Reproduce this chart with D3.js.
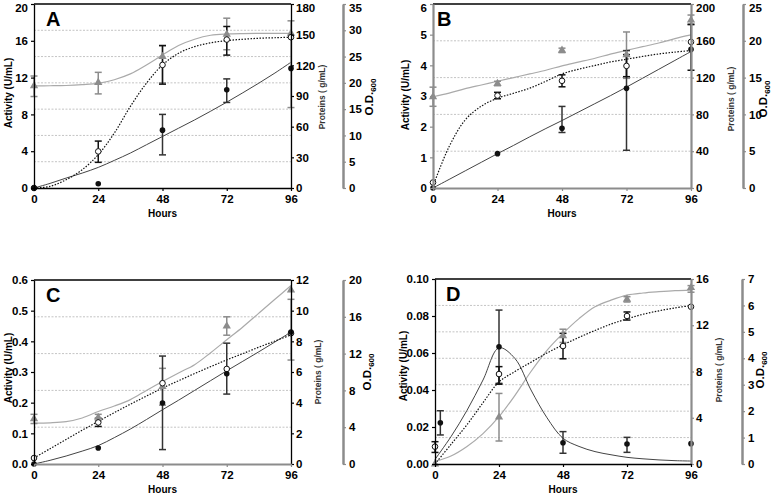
<!DOCTYPE html>
<html><head><meta charset="utf-8">
<script src="https://cdn.jsdelivr.net/npm/d3@7"></script>
<style>
body{margin:0;background:#fff}
svg{display:block;font-family:"Liberation Sans",Arial,sans-serif}
</style></head><body>
<svg id="c" width="775" height="494"></svg>
<script>
// ---------- shared ----------
const hours = [0, 24, 48, 72, 96];
const hourTicks = [0, 24, 48, 72, 96];
const fitHours = [0, 6, 12, 18, 24, 30, 36, 42, 48, 54, 60, 66, 72, 78, 84, 90, 96];

// ---------- Panel A ----------
const aActivity = [0, 0.47, 6.29, 10.67, 13.0];
const aActivityErr = [null, null, [3.6, 8.0], [9.3, 11.86], null];
const aProteins = [0, 35.8, 120.4, 145.2, 147.5];
const aProteinsErr = [null, [25.1, 45.9], [101.6, 139.3], [130, 158], null];
const aOD = [19.43, 20.06, 25.0, 29.24, 29.4];
const aODErr = [[17.4, 21.3], [17.9, 22.0], [20.0, 27.1], [26.3, 32.3], [15.3, 31.8]];
const aActivityFit = [0, 0.5, 1.08, 1.62, 2.24, 3.0, 3.8, 4.7, 5.6, 6.5, 7.4, 8.35, 9.33, 10.35, 11.4, 12.5, 13.67];
const aProteinsFit = [0, 1.6, 8.1, 17.9, 32.6, 53.7, 79.8, 102.5, 120.4, 131.8, 138.3, 142, 144.2, 145.5, 146.5, 147, 147.5];
const aODFit = [19.43, 19.45, 19.5, 19.65, 19.9, 20.6, 21.7, 23.4, 25.3, 27.1, 28.3, 29.05, 29.3, 29.38, 29.4, 29.4, 29.4];
const aActTicks = [0, 4, 8, 12, 16, 20];
const aProtTicks = [0, 30, 60, 90, 120, 150, 180];
const aODTicks = [0, 5, 10, 15, 20, 25, 30, 35];

// ---------- Panel B ----------
const bActivity = [0, 1.12, 1.95, 3.25, 4.52];
const bActivityErr = [null, null, [1.81, 2.66], [1.23, 4.48], null];
const bProteins = [6, 100.5, 116.5, 132.7, 158.8];
const bProteinsErr = [null, [97, 104], [110, 123], [121, 145], [128, 178]];
const bOD = [12.4, 14.2, 18.7, 18.1, 22.8];
const bODErr = [[11.1, 13.7], [13.9, 14.5], [18.4, 19.0], [14.9, 21.2], [22.15, 23.5]];
const bActivityFit = [0, 0.28, 0.56, 0.84, 1.12, 1.39, 1.67, 1.94, 2.2, 2.47, 2.74, 3.01, 3.29, 3.58, 3.87, 4.16, 4.45];
const bProteinsFit = [2, 45, 74, 89, 97.6, 103, 108.5, 116, 124, 129, 133, 137, 140, 143, 145.7, 147.7, 149.4];
const bODFit = [12.4, 12.9, 13.5, 14.0, 14.5, 15.0, 15.5, 16.0, 16.6, 17.1, 17.6, 18.2, 18.7, 19.2, 19.7, 20.3, 20.8];
const bActTicks = [0, 1, 2, 3, 4, 5, 6];
const bProtTicks = [0, 40, 80, 120, 160, 200];
const bODTicks = [0, 5, 10, 15, 20, 25];

// ---------- Panel C ----------
const cActivity = [0, 0.052, 0.199, 0.294, 0.43];
const cActivityErr = [null, null, [0.047, 0.352], [0.228, 0.394], null];
const cProteins = [0.39, 2.71, 5.27, 6.2, 8.53];
const cProteinsErr = [null, [2.45, 2.98], null, null, null];
const cOD = [4.92, 5.06, 8.4, 15.0, 18.9];
const cODErr = [[4.4, 5.4], [4.7, 5.4], [6.4, 10.4], [14.0, 16.0], [11.3, 17.9]];
const cActivityFit = [0, 0.012, 0.026, 0.042, 0.06, 0.086, 0.114, 0.145, 0.177, 0.208, 0.24, 0.272, 0.304, 0.335, 0.366, 0.398, 0.43];
const cProteinsFit = [0.39, 1.0, 1.6, 2.2, 2.78, 3.35, 3.9, 4.43, 4.95, 5.43, 5.9, 6.35, 6.79, 7.2, 7.62, 8.02, 8.42];
const cODFit = [4.45, 4.48, 4.6, 5.0, 5.7, 6.3, 7.0, 8.0, 8.97, 9.9, 10.8, 12.1, 13.5, 14.9, 16.4, 17.9, 19.4];
const cActTicks = [0, 0.1, 0.2, 0.3, 0.4, 0.5, 0.6];
const cProtTicks = [0, 2, 4, 6, 8, 10, 12];
const cODTicks = [0, 4, 8, 12, 16, 20];

// ---------- Panel D ----------
const dActHours = [2, 24, 48, 72, 96];
const dActivity = [0.0223, 0.0634, 0.0115, 0.0108, 0.011];
const dActivityErr = [[0.0157, 0.0288], [0.0436, 0.0832], [0.0058, 0.0175], [0.0063, 0.0144], null];
const dProteins = [1.5, 7.78, 10.2, 12.8, 13.6];
const dProteinsErr = [[1.0, 1.93], [6.9, 8.42], [9.1, 11.3], [12.45, 13.15], null];
const dOD = [0, 1.77, 4.85, 6.23, 6.67];
const dODErr = [null, [0.87, 2.67], [4.6, 5.1], [6.13, 6.33], [6.5, 6.75]];
const dActivityFit = [0.0025, 0.0148, 0.029, 0.0454, 0.0628, 0.057, 0.040, 0.025, 0.0139, 0.0095, 0.0067, 0.005, 0.0036, 0.0028, 0.0022, 0.0018, 0.0016];
const dProteinsFit = [0, 1.7, 3.4, 5.3, 7.1, 8.0, 8.8, 9.6, 10.3, 10.95, 11.55, 12.1, 12.55, 12.95, 13.25, 13.5, 13.7];
const dODFit = [0.09, 0.3, 0.66, 1.15, 1.79, 2.6, 3.5, 4.3, 4.94, 5.5, 5.95, 6.2, 6.39, 6.47, 6.52, 6.56, 6.58];
const dActTicks = [0, 0.02, 0.04, 0.06, 0.08, 0.10];
const dProtTicks = [0, 4, 8, 12, 16];
const dODTicks = [0, 1, 2, 3, 4, 5, 6, 7];

// ---------- drawing ----------
const GREY = "#8c8c8c";
const svg = d3.select("#c");

function styleAxis(ax, color, width, topV) {
  ax.select(".domain").attr("stroke", color).attr("stroke-width", width);
  ax.selectAll(".tick line").attr("stroke", color).attr("stroke-width", 1.2);
  ax.selectAll(".tick text").attr("fill", "#000").attr("font-size", "11.5px")
    .attr("font-weight", "bold").attr("font-family", '"Liberation Sans",Arial,sans-serif');
  if (topV !== undefined) {
    // keep the topmost tick label inside the picture
    ax.selectAll(".tick").filter(d => d === topV).select("text").attr("dy", "0.62em");
  }
}

function panel(c) {
  const g = svg.append("g");
  const x = d3.scaleLinear().domain([0, 96]).range([c.L, c.R]);
  const yA = d3.scaleLinear().domain([0, d3.max(c.actTicks)]).range([c.B, c.T]);
  const yP = d3.scaleLinear().domain([0, d3.max(c.protTicks)]).range([c.B, c.T]);
  const yO = d3.scaleLinear().domain([0, d3.max(c.odTicks)]).range([c.B, c.T]);
  const topV = c.T < 10 ? "top" : undefined;

  // gridlines at O.D. ticks
  g.selectAll("line.grid").data(c.odTicks.slice(1, -1)).join("line")
    .attr("x1", c.L).attr("x2", c.R).attr("y1", d => yO(d)).attr("y2", d => yO(d))
    .attr("stroke", "#c4c4c4").attr("stroke-width", 1).attr("stroke-dasharray", "2,1.5");

  // fitted curves
  const mk = (ys, ysc) => d3.line().x((d, i) => x(fitHours[i])).y(d => ysc(d)).curve(d3.curveCatmullRom)(ys);
  g.append("path").attr("d", mk(c.odFit, yO)).attr("fill", "none").attr("stroke", "#aaaaaa").attr("stroke-width", 1.2);
  g.append("path").attr("d", mk(c.actFit, yA)).attr("fill", "none").attr("stroke", "#444").attr("stroke-width", 1);
  g.append("path").attr("d", mk(c.protFit, yP)).attr("fill", "none").attr("stroke", "#111").attr("stroke-width", 1.2).attr("stroke-dasharray", "1.5,1.5");

  // error bars
  function errs(errArr, xs, ysc, color) {
    errArr.forEach((e, i) => {
      if (!e) return;
      const xx = x(xs[i]);
      g.append("line").attr("x1", xx).attr("x2", xx).attr("y1", ysc(e[0])).attr("y2", ysc(e[1]))
        .attr("stroke", color).attr("stroke-width", 1.5);
      [e[0], e[1]].forEach(v => g.append("line").attr("x1", xx - 3.5).attr("x2", xx + 3.5)
        .attr("y1", ysc(v)).attr("y2", ysc(v)).attr("stroke", color).attr("stroke-width", 1.5));
    });
  }
  errs(c.odErr, hours, yO, GREY);
  errs(c.actErr, c.actHours, yA, "#333");
  errs(c.protErr, hours, yP, "#111");

  // markers
  const tri = d3.symbol().type(d3.symbolTriangle).size(30);
  g.selectAll("path.od").data(c.od).join("path").attr("d", tri)
    .attr("transform", (d, i) => `translate(${x(hours[i])},${yO(d)})`).attr("fill", GREY);
  g.selectAll("circle.prot").data(c.prot).join("circle")
    .attr("cx", (d, i) => x(hours[i])).attr("cy", d => yP(d)).attr("r", 2.8)
    .attr("fill", "#fff").attr("stroke", "#111").attr("stroke-width", 1);
  g.selectAll("circle.act").data(c.act).join("circle")
    .attr("cx", (d, i) => x(c.actHours[i])).attr("cy", d => yA(d)).attr("r", 2.8).attr("fill", "#111");

  // frame top
  g.append("line").attr("x1", c.L).attr("x2", c.R).attr("y1", c.T).attr("y2", c.T).attr("stroke", "#000").attr("stroke-width", 1.3);

  // axes
  const axL = g.append("g").attr("transform", `translate(${c.L},0)`)
    .call(d3.axisLeft(yA).tickValues(c.actTicks).tickFormat(d3.format(c.actFmt)).tickSize(3).tickPadding(3).tickSizeOuter(0));
  styleAxis(axL, c.colL, c.colL === "#000" ? 1.3 : 2.2, topV && d3.max(c.actTicks));
  const axR = g.append("g").attr("transform", `translate(${c.R},0)`)
    .call(d3.axisRight(yP).tickValues(c.protTicks).tickFormat(d3.format("d")).tickSize(3).tickPadding(2).tickSizeOuter(0));
  styleAxis(axR, c.colR, c.colR === "#000" ? 1.3 : 2.2, topV && d3.max(c.protTicks));
  const axB = g.append("g").attr("transform", `translate(0,${c.B})`)
    .call(d3.axisBottom(x).tickValues(hourTicks).tickSize(3).tickPadding(4).tickSizeOuter(0));
  styleAxis(axB, c.colB, c.colB === "#000" ? 1.3 : 2.2);
  const axO = g.append("g").attr("transform", `translate(${c.odX},0)`)
    .call(d3.axisRight(yO).tickValues(c.odTicks).tickFormat(d3.format("d")).tickSize(3).tickPadding(3).tickSizeOuter(0));
  styleAxis(axO, GREY, 2.5, topV && d3.max(c.odTicks));

  // labels
  g.append("text").attr("x", c.L + c.letterDx).attr("y", c.T + 22).text(c.letter)
    .attr("font-size", "20px").attr("font-weight", "bold");
  g.append("text").attr("transform", `translate(${c.actLabX},${c.labY}) rotate(-90)`)
    .attr("text-anchor", "middle").attr("font-size", "10px").attr("font-weight", "bold").text("Activity (U/mL)");
  g.append("text").attr("transform", `translate(${c.protLabX},${c.labY + 4}) rotate(-90)`)
    .attr("text-anchor", "middle").attr("font-size", "8.5px").attr("font-weight", "bold").attr("fill", "#333")
    .text("Proteins (  g/mL)");
  const od = g.append("text").attr("transform", `translate(${c.odLabX},${c.labY + 4}) rotate(-90)`)
    .attr("text-anchor", "middle").attr("font-size", "11.5px").attr("font-weight", "bold");
  od.append("tspan").text("O.D.");
  od.append("tspan").attr("font-size", "8px").attr("dy", "3").text("600");
  g.append("text").attr("x", (c.L + c.R) / 2).attr("y", c.B + 29).attr("text-anchor", "middle")
    .attr("font-size", "10px").attr("font-weight", "bold").text("Hours");
}

panel({letter: "A", L: 34, R: 291, T: 4, B: 188, odX: 343, letterDx: 12, actLabX: 12, protLabX: 325, odLabX: 373, labY: 93,
  act: aActivity, actErr: aActivityErr, actHours: hours, prot: aProteins, protErr: aProteinsErr, od: aOD, odErr: aODErr,
  actFit: aActivityFit, protFit: aProteinsFit, odFit: aODFit,
  actTicks: aActTicks, protTicks: aProtTicks, odTicks: aODTicks, actFmt: "d",
  colL: "#000", colR: "#000", colB: "#000"});
panel({letter: "B", L: 433, R: 691, T: 4, B: 188, odX: 743, letterDx: 4, actLabX: 409, protLabX: 734, odLabX: 767, labY: 95,
  act: bActivity, actErr: bActivityErr, actHours: hours, prot: bProteins, protErr: bProteinsErr, od: bOD, odErr: bODErr,
  actFit: bActivityFit, protFit: bProteinsFit, odFit: bODFit,
  actTicks: bActTicks, protTicks: bProtTicks, odTicks: bODTicks, actFmt: "d",
  colL: GREY, colR: GREY, colB: GREY});
panel({letter: "C", L: 34, R: 291, T: 280, B: 464, odX: 343, letterDx: 12, actLabX: 12, protLabX: 321, odLabX: 371, labY: 368,
  act: cActivity, actErr: cActivityErr, actHours: hours, prot: cProteins, protErr: cProteinsErr, od: cOD, odErr: cODErr,
  actFit: cActivityFit, protFit: cProteinsFit, odFit: cODFit,
  actTicks: cActTicks, protTicks: cProtTicks, odTicks: cODTicks, actFmt: ".1f",
  colL: "#000", colR: "#000", colB: GREY});
panel({letter: "D", L: 435, R: 691, T: 279, B: 464, odX: 742, letterDx: 11, actLabX: 407, protLabX: 722, odLabX: 764, labY: 366,
  act: dActivity, actErr: dActivityErr, actHours: dActHours, prot: dProteins, protErr: dProteinsErr, od: dOD, odErr: dODErr,
  actFit: dActivityFit, protFit: dProteinsFit, odFit: dODFit,
  actTicks: dActTicks, protTicks: dProtTicks, odTicks: dODTicks, actFmt: ".2f",
  colL: "#000", colR: GREY, colB: "#000"});
</script>
</body></html>
